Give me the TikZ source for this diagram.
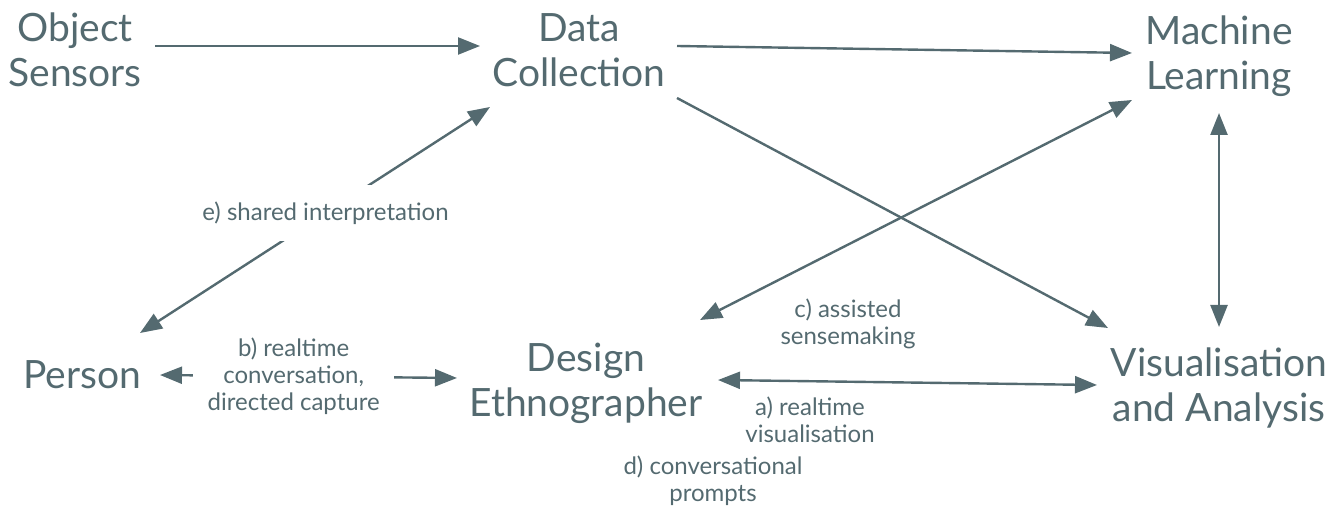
\documentclass[tikz,border=0pt]{standalone}
\usepackage{fontspec}
\setmainfont{Lato}
\usetikzlibrary{arrows.meta}
\definecolor{ink}{RGB}{84,106,112}
\tikzset{
  big/.style={text=ink, align=center, inner sep=0pt, font=\fontsize{39}{45}\selectfont},
  lbl/.style={text=ink, align=center, inner sep=0pt, font=\fontsize{24}{27}\selectfont},
  arr/.style={draw=ink, line width=2.4pt, -{Triangle[length=22pt,width=17pt]}},
  darr/.style={draw=ink, line width=2.4pt, {Triangle[length=22pt,width=17pt]}-{Triangle[length=22pt,width=17pt]}},
}
\begin{document}
\begin{tikzpicture}[x=1pt,y=-1pt]
\useasboundingbox (0,0) rectangle (1340,510);
\node[big] (os) at (75,50) {Object\\Sensors};
\node[big] (dc) at (579,50) {Data\\Collection};
\node[big] (ml) at (1219,56) {Machine\\Learning};
\node[big] (pe) at (82,375) {Person};
\node[big] (de) at (586,383) {Design\\Ethnographer};
\node[big] (va) at (1219,388) {Visualisation\\and Analysis};

\node[lbl] (lc) at (848,324) {c) assisted\\sensemaking};
\node[lbl] (la) at (810,420) {a) realtime\\visualisation};
\node[lbl] (ld) at (713,481) {d) conversational\\prompts};

\draw[arr] ([shift={(80,-4)}]os.center) -- ([shift={(-99,-4)}]dc.center);
\draw[arr] ([shift={(98,-4)}]dc.center) -- ([shift={(-87,-3)}]ml.center);
\draw[arr] ([shift={(98,48)}]dc.center) -- ([shift={(-111,-60)}]va.center);
\draw[darr] ([shift={(-87,44)}]ml.center) -- ([shift={(114,-63)}]de.center);
\draw[darr] ([shift={(0,57)}]ml.center) -- ([shift={(0,-61)}]va.center);
\draw[darr] ([shift={(132,-3)}]de.center) -- ([shift={(-122,-3)}]va.center);
\draw[darr] ([shift={(58,-42)}]pe.center) -- node[lbl, fill=white, pos=0.53, minimum height=56pt] (le) {e) shared interpretation} ([shift={(-89,57)}]dc.center);
\draw[darr] ([shift={(78,0)}]pe.center) -- node[lbl, fill=white, pos=0.45, minimum width=201pt] (lb) {b) realtime\\conversation,\\directed capture} ([shift={(-129,-5)}]de.center);
\end{tikzpicture}
\end{document}
